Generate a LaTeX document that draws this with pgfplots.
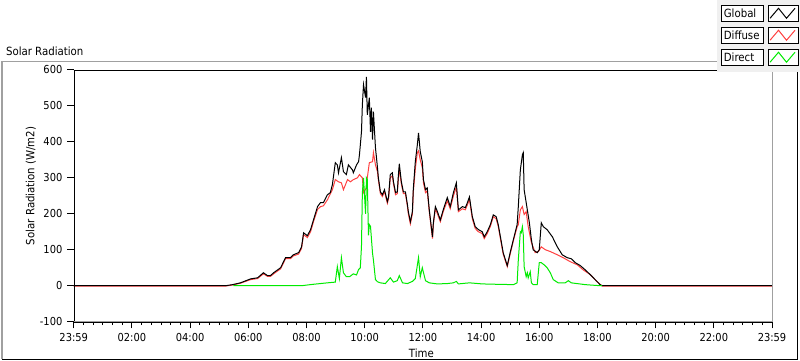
\documentclass[border=0pt]{standalone}
\usepackage{fontspec}
\setmainfont{DejaVu Sans Condensed}
\usepackage{pgfplots}
\usepackage{pgfplotstable}
\pgfplotsset{compat=1.18}
\definecolor{cRed}{RGB}{255,64,64}
\definecolor{cGreen}{RGB}{0,235,0}
\definecolor{frameGray}{RGB}{160,160,160}
\definecolor{panelGray}{RGB}{240,240,240}

\pgfplotstableread{
h v
0 0
5.22 0
5.46 3
5.73 8
6.08 19
6.32 22
6.52 36
6.66 28
6.76 28
6.87 36
7.11 50
7.28 78
7.45 78
7.55 86
7.73 92
7.83 108
7.90 147
8.03 139
8.14 156
8.24 183
8.38 220
8.48 231
8.58 231
8.65 242
8.72 253
8.82 259
8.89 281
8.99 342
9.06 336
9.10 314
9.20 356
9.27 317
9.37 309
9.44 336
9.58 322
9.61 314
9.72 336
9.79 345
9.82 364
9.89 428
9.92 503
9.96 559
10.03 523
10.06 581
10.09 475
10.16 523
10.20 428
10.23 495
10.27 406
10.30 484
10.37 384
10.44 328
10.47 300
10.54 261
10.61 253
10.68 267
10.78 234
10.82 247
10.88 309
10.95 314
10.99 289
11.06 259
11.12 261
11.16 309
11.19 339
11.26 289
11.33 261
11.40 261
11.47 225
11.50 206
11.57 178
11.64 206
11.67 267
11.74 345
11.81 392
11.85 425
11.91 373
11.98 345
12.02 295
12.09 267
12.15 272
12.22 211
12.33 136
12.36 175
12.43 220
12.50 206
12.60 183
12.70 211
12.84 245
12.94 220
13.05 259
13.15 286
13.22 211
13.36 220
13.46 217
13.53 231
13.60 247
13.70 192
13.80 164
13.91 156
14.04 150
14.11 136
14.21 150
14.32 170
14.42 197
14.52 192
14.59 170
14.70 120
14.76 92
14.90 56
15.00 92
15.11 128
15.24 170
15.28 220
15.35 322
15.42 364
15.45 370
15.48 267
15.59 211
15.66 175
15.73 128
15.79 100
15.93 92
16.00 100
16.07 175
16.14 164
16.27 156
16.45 136
16.62 108
16.79 86
16.96 78
17.10 75
17.24 64
17.41 56
17.58 44
17.75 31
17.92 17
18.09 3
18.16 0
24 0
}\globaltab

\pgfplotstableread{
h v
0 -1
5.22 -1
5.46 2
5.73 7
6.08 17
6.32 20
6.52 33
6.66 26
6.76 26
6.87 33
7.11 47
7.28 75
7.45 75
7.55 83
7.73 88
7.83 104
7.90 142
8.03 134
8.14 150
8.24 178
8.38 212
8.48 220
8.58 222
8.72 239
8.89 267
8.99 295
9.10 289
9.20 286
9.27 267
9.41 295
9.51 289
9.61 295
9.75 300
9.82 309
9.92 300
9.96 259
10.06 272
10.09 300
10.16 342
10.27 345
10.30 370
10.37 336
10.44 317
10.47 295
10.54 256
10.61 248
10.68 262
10.78 229
10.82 242
10.88 300
10.95 306
10.99 283
11.06 253
11.12 256
11.16 300
11.19 325
11.26 283
11.33 256
11.40 256
11.47 220
11.50 200
11.57 172
11.64 200
11.67 259
11.74 325
11.81 370
11.85 375
11.91 350
11.98 328
12.02 286
12.09 259
12.15 264
12.22 206
12.33 131
12.36 170
12.43 214
12.50 200
12.60 178
12.70 206
12.84 236
12.94 214
13.05 250
13.15 275
13.22 206
13.36 214
13.46 211
13.53 225
13.60 240
13.70 186
13.80 159
13.91 150
14.04 145
14.11 131
14.21 145
14.32 165
14.42 192
14.52 186
14.59 165
14.70 115
14.76 88
14.90 53
15.00 88
15.11 125
15.24 164
15.28 170
15.35 211
15.42 220
15.48 198
15.55 206
15.62 164
15.73 120
15.86 92
15.97 95
16.07 108
16.21 100
16.38 95
16.62 86
16.82 78
17.06 67
17.31 58
17.51 44
17.75 31
17.99 11
18.16 -1
24 -1
}\diffusetab

\pgfplotstableread{
h v
5.49 0
7.83 0
8.03 2
8.24 4
8.48 6
8.72 8
8.99 10
9.06 53
9.13 20
9.20 78
9.27 36
9.37 25
9.48 25
9.61 33
9.72 30
9.79 45
9.85 50
9.89 110
9.92 259
9.96 300
10.03 200
10.06 300
10.09 295
10.13 140
10.16 170
10.20 165
10.27 90
10.30 72
10.37 17
10.44 11
10.54 8
10.71 6
10.88 22
10.99 10
11.12 14
11.19 28
11.30 8
11.47 6
11.64 12
11.74 20
11.85 78
11.91 25
11.98 50
12.09 14
12.22 8
12.50 5
12.84 6
13.05 8
13.15 12
13.22 5
13.60 8
14.04 5
14.52 4
15.11 3
15.24 8
15.28 72
15.35 150
15.38 147
15.42 164
15.45 142
15.48 53
15.55 25
15.59 36
15.62 22
15.69 39
15.73 8
15.79 3
15.93 3
16.00 64
16.07 64
16.17 58
16.27 50
16.38 36
16.48 17
16.65 8
16.89 8
17.00 14
17.10 8
17.58 3
18.09 0
18.16 0
}\directtab

\begin{document}
\begin{tikzpicture}[x=0.75pt,y=0.75pt]
\fill[white] (0,0) rectangle (800,361);
\begin{axis}[
  at={(54.75pt,29.25pt)}, anchor=south west,
  width=524.25pt, height=189pt, scale only axis,
  xmin=0, xmax=24, ymin=-100, ymax=600,
  axis line style={draw=none},
  xtick={0,2,...,24},
  xticklabels={23:59,02:00,04:00,06:00,08:00,10:00,12:00,14:00,16:00,18:00,20:00,22:00,23:59},
  minor x tick num=5,
  ytick={-100,0,100,200,300,400,500,600},
  yticklabels={-100,0,100,200,300,400,500,600},
  xtick pos=bottom, ytick pos=left,
  tick align=outside,
  major tick length=5pt, minor tick length=2.6pt,
  every tick/.style={black, line width=0.75pt},
  tick label style={font=\fontsize{8.25}{10}\selectfont, black},
  no markers,
]
\addplot[cRed, line width=0.75pt] table[x=h,y=v] {\diffusetab};
\addplot[black, line width=0.75pt] table[x=h,y=v] {\globaltab};
\addplot[cGreen, line width=0.75pt] table[x=h,y=v] {\directtab};
\end{axis}
% plot frame
\draw[black, line width=0.75pt] (73,290.5) -- (717,290.5);
\draw[black, line width=0.75pt] (73.5,290.5) -- (73.5,39);
\draw[frameGray, line width=0.75pt] (772,290.5) -- (772,39);
\draw[frameGray, line width=0.75pt] (73,39) -- (772,39);
\draw[black, line width=0.75pt] (73,38) -- (772.5,38);
% outer frame
\draw[frameGray, line width=1.2pt] (0,299.5) -- (717,299.5);
\draw[frameGray, line width=1.2pt] (1,299.5) -- (1,1.5);
\draw[black, line width=0.9pt] (1,1.5) -- (797.5,1.5) -- (797.5,299.5);
% texts
\node[anchor=west, inner sep=0pt, font=\fontsize{8.5}{10}\selectfont] at (5,310) {Solar Radiation};
\node[inner sep=0pt, font=\fontsize{8.5}{10}\selectfont] at (421,7) {Time};
\node[rotate=90, inner sep=0pt, font=\fontsize{8.5}{10}\selectfont] at (30,175) {Solar Radiation (W/m2)};
% legend panel
\fill[panelGray] (717,289) rectangle (800,361);
\foreach \dy/\name/\col in {0/Global/black, 22/Diffuse/cRed, 44/Direct/cGreen}{
  \draw[black, line width=0.75pt, fill=white] (721.5,355.5-\dy) rectangle (763.5,339.5-\dy);
  \node[anchor=west, inner sep=0pt, font=\fontsize{8.5}{10}\selectfont] at (723.5,347.5-\dy) {\name};
  \draw[black, line width=0.75pt, fill=white] (768.5,355.5-\dy) rectangle (798.5,339.5-\dy);
  \draw[\col, line width=0.75pt] (770,342.7-\dy) -- (778.5,352.7-\dy) -- (786.5,342.7-\dy) -- (795,352.7-\dy);
}
\end{tikzpicture}
\end{document}
